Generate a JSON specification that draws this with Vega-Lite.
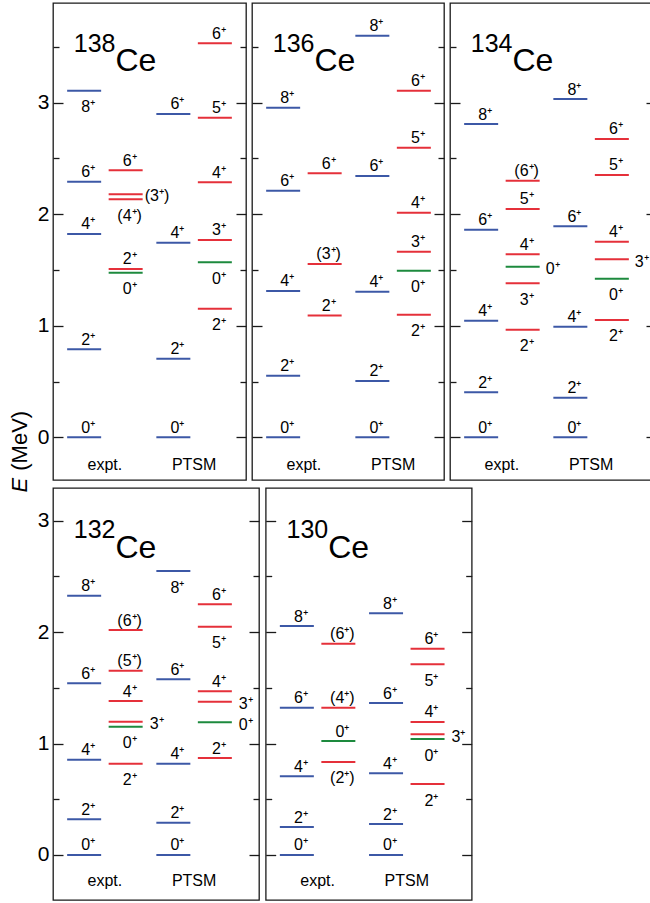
{
"$schema": "https://vega.github.io/schema/vega-lite/v6.json",
"padding": {"left": 7, "top": 2, "right": 0, "bottom": 0},
"config": {
  "font": "Liberation Sans",
  "view": {"stroke": "#1a1a1a", "strokeWidth": 1.3},
  "axis": {"labelColor": "#000", "titleColor": "#000", "tickColor": "#1a1a1a", "tickWidth": 1.3, "domain": false, "grid": false, "titleFontWeight": "normal"},
  "text": {"font": "Liberation Sans", "color": "#000"}
},
"datasets": {
  "c138": [
    {"s":"expt.","c":"g","k":"g","E":0,"J":"0⁺","p":"a"},
    {"s":"expt.","c":"g","k":"g","E":0.789,"J":"2⁺","p":"a"},
    {"s":"expt.","c":"g","k":"g","E":1.823,"J":"4⁺","p":"a"},
    {"s":"expt.","c":"g","k":"g","E":2.292,"J":"6⁺","p":"a"},
    {"s":"expt.","c":"g","k":"g","E":3.108,"J":"8⁺","p":"b"},
    {"s":"expt.","c":"o","k":"z","E":1.476,"J":"0⁺","p":"b"},
    {"s":"expt.","c":"o","k":"r","E":1.509,"J":"2⁺","p":"a"},
    {"s":"expt.","c":"o","k":"r","E":2.134,"J":"(4⁺)","p":"b"},
    {"s":"expt.","c":"o","k":"r","E":2.179,"J":"(3⁺)","p":"r"},
    {"s":"expt.","c":"o","k":"r","E":2.394,"J":"6⁺","p":"a"},
    {"s":"PTSM","c":"g","k":"g","E":0,"J":"0⁺","p":"a"},
    {"s":"PTSM","c":"g","k":"g","E":0.705,"J":"2⁺","p":"a"},
    {"s":"PTSM","c":"g","k":"g","E":1.745,"J":"4⁺","p":"a"},
    {"s":"PTSM","c":"g","k":"g","E":2.899,"J":"6⁺","p":"a"},
    {"s":"PTSM","c":"o","k":"r","E":1.153,"J":"2⁺","p":"b"},
    {"s":"PTSM","c":"o","k":"z","E":1.569,"J":"0⁺","p":"b"},
    {"s":"PTSM","c":"o","k":"r","E":1.769,"J":"3⁺","p":"a"},
    {"s":"PTSM","c":"o","k":"r","E":2.286,"J":"4⁺","p":"a"},
    {"s":"PTSM","c":"o","k":"r","E":2.866,"J":"5⁺","p":"a"},
    {"s":"PTSM","c":"o","k":"r","E":3.533,"J":"6⁺","p":"a"}
  ],
  "c136": [
    {"s":"expt.","c":"g","k":"g","E":0,"J":"0⁺","p":"a"},
    {"s":"expt.","c":"g","k":"g","E":0.552,"J":"2⁺","p":"a"},
    {"s":"expt.","c":"g","k":"g","E":1.312,"J":"4⁺","p":"a"},
    {"s":"expt.","c":"g","k":"g","E":2.211,"J":"6⁺","p":"a"},
    {"s":"expt.","c":"g","k":"g","E":2.955,"J":"8⁺","p":"a"},
    {"s":"expt.","c":"o","k":"r","E":1.091,"J":"2⁺","p":"a"},
    {"s":"expt.","c":"o","k":"r","E":1.554,"J":"(3⁺)","p":"a"},
    {"s":"expt.","c":"o","k":"r","E":2.367,"J":"6⁺","p":"a"},
    {"s":"PTSM","c":"g","k":"g","E":0,"J":"0⁺","p":"a"},
    {"s":"PTSM","c":"g","k":"g","E":0.505,"J":"2⁺","p":"a"},
    {"s":"PTSM","c":"g","k":"g","E":1.306,"J":"4⁺","p":"a"},
    {"s":"PTSM","c":"g","k":"g","E":2.343,"J":"6⁺","p":"a"},
    {"s":"PTSM","c":"g","k":"g","E":3.601,"J":"8⁺","p":"a"},
    {"s":"PTSM","c":"o","k":"r","E":1.099,"J":"2⁺","p":"b"},
    {"s":"PTSM","c":"o","k":"z","E":1.494,"J":"0⁺","p":"b"},
    {"s":"PTSM","c":"o","k":"r","E":1.664,"J":"3⁺","p":"a"},
    {"s":"PTSM","c":"o","k":"r","E":2.014,"J":"4⁺","p":"a"},
    {"s":"PTSM","c":"o","k":"r","E":2.597,"J":"5⁺","p":"a"},
    {"s":"PTSM","c":"o","k":"r","E":3.108,"J":"6⁺","p":"a"}
  ],
  "c134": [
    {"s":"expt.","c":"g","k":"g","E":0,"J":"0⁺","p":"a"},
    {"s":"expt.","c":"g","k":"g","E":0.403,"J":"2⁺","p":"a"},
    {"s":"expt.","c":"g","k":"g","E":1.046,"J":"4⁺","p":"a"},
    {"s":"expt.","c":"g","k":"g","E":1.861,"J":"6⁺","p":"a"},
    {"s":"expt.","c":"g","k":"g","E":2.809,"J":"8⁺","p":"a"},
    {"s":"expt.","c":"o","k":"r","E":0.965,"J":"2⁺","p":"b"},
    {"s":"expt.","c":"o","k":"r","E":1.381,"J":"3⁺","p":"b"},
    {"s":"expt.","c":"o","k":"z","E":1.530,"J":"0⁺","p":"r"},
    {"s":"expt.","c":"o","k":"r","E":1.641,"J":"4⁺","p":"a"},
    {"s":"expt.","c":"o","k":"r","E":2.047,"J":"5⁺","p":"a"},
    {"s":"expt.","c":"o","k":"r","E":2.301,"J":"(6⁺)","p":"a"},
    {"s":"PTSM","c":"g","k":"g","E":0,"J":"0⁺","p":"a"},
    {"s":"PTSM","c":"g","k":"g","E":0.355,"J":"2⁺","p":"a"},
    {"s":"PTSM","c":"g","k":"g","E":0.992,"J":"4⁺","p":"a"},
    {"s":"PTSM","c":"g","k":"g","E":1.892,"J":"6⁺","p":"a"},
    {"s":"PTSM","c":"g","k":"g","E":3.033,"J":"8⁺","p":"a"},
    {"s":"PTSM","c":"o","k":"r","E":1.052,"J":"2⁺","p":"b"},
    {"s":"PTSM","c":"o","k":"z","E":1.422,"J":"0⁺","p":"b"},
    {"s":"PTSM","c":"o","k":"r","E":1.596,"J":"3⁺","p":"r"},
    {"s":"PTSM","c":"o","k":"r","E":1.754,"J":"4⁺","p":"a"},
    {"s":"PTSM","c":"o","k":"r","E":2.352,"J":"5⁺","p":"a"},
    {"s":"PTSM","c":"o","k":"r","E":2.675,"J":"6⁺","p":"a"}
  ],
  "c132": [
    {"s":"expt.","c":"g","k":"g","E":0,"J":"0⁺","p":"a"},
    {"s":"expt.","c":"g","k":"g","E":0.320,"J":"2⁺","p":"a"},
    {"s":"expt.","c":"g","k":"g","E":0.855,"J":"4⁺","p":"a"},
    {"s":"expt.","c":"g","k":"g","E":1.541,"J":"6⁺","p":"a"},
    {"s":"expt.","c":"g","k":"g","E":2.327,"J":"8⁺","p":"a"},
    {"s":"expt.","c":"o","k":"r","E":0.819,"J":"2⁺","p":"b"},
    {"s":"expt.","c":"o","k":"z","E":1.151,"J":"0⁺","p":"b"},
    {"s":"expt.","c":"o","k":"r","E":1.196,"J":"3⁺","p":"r"},
    {"s":"expt.","c":"o","k":"r","E":1.382,"J":"4⁺","p":"a"},
    {"s":"expt.","c":"o","k":"r","E":1.654,"J":"(5⁺)","p":"a"},
    {"s":"expt.","c":"o","k":"r","E":2.019,"J":"(6⁺)","p":"a"},
    {"s":"PTSM","c":"g","k":"g","E":0,"J":"0⁺","p":"a"},
    {"s":"PTSM","c":"g","k":"g","E":0.290,"J":"2⁺","p":"a"},
    {"s":"PTSM","c":"g","k":"g","E":0.819,"J":"4⁺","p":"a"},
    {"s":"PTSM","c":"g","k":"g","E":1.577,"J":"6⁺","p":"a"},
    {"s":"PTSM","c":"g","k":"g","E":2.549,"J":"8⁺","p":"b"},
    {"s":"PTSM","c":"o","k":"r","E":0.870,"J":"2⁺","p":"a"},
    {"s":"PTSM","c":"o","k":"z","E":1.191,"J":"0⁺","p":"r"},
    {"s":"PTSM","c":"o","k":"r","E":1.376,"J":"3⁺","p":"r"},
    {"s":"PTSM","c":"o","k":"r","E":1.469,"J":"4⁺","p":"a"},
    {"s":"PTSM","c":"o","k":"r","E":2.049,"J":"5⁺","p":"b"},
    {"s":"PTSM","c":"o","k":"r","E":2.250,"J":"6⁺","p":"a"}
  ],
  "c130": [
    {"s":"expt.","c":"g","k":"g","E":0,"J":"0⁺","p":"a"},
    {"s":"expt.","c":"g","k":"g","E":0.251,"J":"2⁺","p":"a"},
    {"s":"expt.","c":"g","k":"g","E":0.706,"J":"4⁺","p":"a"},
    {"s":"expt.","c":"g","k":"g","E":1.322,"J":"6⁺","p":"a"},
    {"s":"expt.","c":"g","k":"g","E":2.055,"J":"8⁺","p":"a"},
    {"s":"expt.","c":"o","k":"r","E":0.835,"J":"(2⁺)","p":"b"},
    {"s":"expt.","c":"o","k":"z","E":1.023,"J":"0⁺","p":"a"},
    {"s":"expt.","c":"o","k":"r","E":1.322,"J":"(4⁺)","p":"a"},
    {"s":"expt.","c":"o","k":"r","E":1.896,"J":"(6⁺)","p":"a"},
    {"s":"PTSM","c":"g","k":"g","E":0,"J":"0⁺","p":"a"},
    {"s":"PTSM","c":"g","k":"g","E":0.278,"J":"2⁺","p":"a"},
    {"s":"PTSM","c":"g","k":"g","E":0.733,"J":"4⁺","p":"a"},
    {"s":"PTSM","c":"g","k":"g","E":1.364,"J":"6⁺","p":"a"},
    {"s":"PTSM","c":"g","k":"g","E":2.169,"J":"8⁺","p":"a"},
    {"s":"PTSM","c":"o","k":"r","E":0.637,"J":"2⁺","p":"b"},
    {"s":"PTSM","c":"o","k":"z","E":1.041,"J":"0⁺","p":"b"},
    {"s":"PTSM","c":"o","k":"r","E":1.083,"J":"3⁺","p":"r"},
    {"s":"PTSM","c":"o","k":"r","E":1.194,"J":"4⁺","p":"a"},
    {"s":"PTSM","c":"o","k":"r","E":1.711,"J":"5⁺","p":"b"},
    {"s":"PTSM","c":"o","k":"r","E":1.851,"J":"6⁺","p":"a"}
  ]
},
"columns": 1,
"align": "none",
"spacing": -6,
"bounds": "full",
"resolve": {"scale": {"xOffset": "independent", "x": "independent", "y": "independent"}},
"concat": [
{
"hconcat": [
{
  "width": 193, "height": 477,
  "data": {"name": "c138"},
  "resolve": {"axis": {"y": "independent"}},
  "layer": [
    {"mark": {"type": "tick", "orient": "horizontal", "size": 34, "thickness": 2, "opacity": 1},
     "encoding": {
       "x": {"field": "s", "type": "nominal", "scale": {"domain": ["expt.", "PTSM"], "range": [0, 193], "paddingInner": 0.0695, "paddingOuter": 0.1166},
             "axis": {"orient": "bottom", "title": null, "ticks": false, "tickSize": 0, "labelAngle": 0, "labelFontSize": 16, "labelPadding": -10.7, "labelBaseline": "alphabetic"}},
       "xOffset": {"field": "c", "type": "nominal", "scale": {"domain": ["g", "o"], "paddingInner": 0, "paddingOuter": 0}},
       "y": {"field": "E", "type": "quantitative", "scale": {"domain": [-0.383, 3.894], "nice": false, "zero": false},
             "axis": {"orient": "left", "values": [0, 0.5, 1, 1.5, 2, 2.5, 3, 3.5], "tickSize": {"condition": {"test": "datum.value % 1 === 0", "value": -10}, "value": -6},
                      "labelExpr": "datum.value % 1 ? '' : format(datum.value, 'd')", "labelFontSize": 21, "labelPadding": 14,
                      "title": "E", "titleFontStyle": "italic", "titleFontSize": 22, "titleAngle": 270, "titleAlign": "center", "titleBaseline": "alphabetic", "titleX": -26.6, "titleY": 481.6}},
       "color": {"field": "k", "type": "nominal", "scale": {"domain": ["g", "r", "z"], "range": ["#3c58a6", "#e5303a", "#1d8a3e"]}, "legend": null}
     }},
    {"transform": [{"filter": "datum.p === 'a'"}],
     "mark": {"type": "text", "fontSize": 16, "dx": 4, "dy": -4.5, "baseline": "alphabetic", "align": "center"},
     "encoding": {"x": {"field": "s", "type": "nominal"}, "xOffset": {"field": "c", "type": "nominal"},
       "y": {"field": "E", "type": "quantitative", "axis": {"orient": "right", "values": [0, 0.5, 1, 1.5, 2, 2.5, 3, 3.5], "tickSize": {"condition": {"test": "datum.value % 1 === 0", "value": -10}, "value": -6}, "labels": false, "title": null}},
       "text": {"field": "J"}}},
    {"transform": [{"filter": "datum.p === 'b'"}],
     "mark": {"type": "text", "fontSize": 16, "dx": 4, "dy": 21.5, "baseline": "alphabetic", "align": "center"},
     "encoding": {"x": {"field": "s", "type": "nominal"}, "xOffset": {"field": "c", "type": "nominal"},
       "y": {"field": "E", "type": "quantitative", "axis": {"orient": "left", "ticks": false, "labels": false, "title": "(MeV)", "titleFontSize": 22, "titleAngle": 270, "titleAlign": "center", "titleBaseline": "alphabetic", "titleX": -26.6, "titleY": 437.3}},
       "text": {"field": "J"}}},
    {"transform": [{"filter": "datum.p === 'r'"}],
     "mark": {"type": "text", "fontSize": 16, "dx": 19, "dy": 7, "baseline": "alphabetic", "align": "left"},
     "encoding": {"x": {"field": "s", "type": "nominal"}, "xOffset": {"field": "c", "type": "nominal"},
       "y": {"field": "E", "type": "quantitative", "axis": null}, "text": {"field": "J"}}},
    {"data": {"values": [{"A": "138", "el": "Ce"}]},
     "mark": {"type": "text", "fontSize": 25, "align": "right", "baseline": "alphabetic", "dx": 10.6},
     "encoding": {"x": {"datum": "expt."}, "y": {"datum": 3.457, "type": "quantitative", "axis": null}, "text": {"field": "A"}}},
    {"data": {"values": [{"A": "138", "el": "Ce"}]},
     "mark": {"type": "text", "fontSize": 32, "align": "left", "baseline": "alphabetic", "dx": 10.6},
     "encoding": {"x": {"datum": "expt."}, "y": {"datum": 3.287, "type": "quantitative", "axis": null}, "text": {"field": "el"}}}
  ]
},
{
  "width": 192, "height": 477,
  "data": {"name": "c136"},
  "resolve": {"axis": {"y": "independent"}},
  "layer": [
    {"mark": {"type": "tick", "orient": "horizontal", "size": 34, "thickness": 2, "opacity": 1},
     "encoding": {
       "x": {"field": "s", "type": "nominal", "scale": {"domain": ["expt.", "PTSM"], "range": [0, 193], "paddingInner": 0.0695, "paddingOuter": 0.1166},
             "axis": {"orient": "bottom", "title": null, "ticks": false, "tickSize": 0, "labelAngle": 0, "labelFontSize": 16, "labelPadding": -10.7, "labelBaseline": "alphabetic"}},
       "xOffset": {"field": "c", "type": "nominal", "scale": {"domain": ["g", "o"], "paddingInner": 0, "paddingOuter": 0}},
       "y": {"field": "E", "type": "quantitative", "scale": {"domain": [-0.383, 3.894], "nice": false, "zero": false},
             "axis": {"orient": "left", "values": [0, 0.5, 1, 1.5, 2, 2.5, 3, 3.5], "tickSize": {"condition": {"test": "datum.value % 1 === 0", "value": -10}, "value": -6}, "labels": false, "title": null}},
       "color": {"field": "k", "type": "nominal", "scale": {"domain": ["g", "r", "z"], "range": ["#3c58a6", "#e5303a", "#1d8a3e"]}, "legend": null}
     }},
    {"transform": [{"filter": "datum.p === 'a'"}],
     "mark": {"type": "text", "fontSize": 16, "dx": 4, "dy": -4.5, "baseline": "alphabetic", "align": "center"},
     "encoding": {"x": {"field": "s", "type": "nominal"}, "xOffset": {"field": "c", "type": "nominal"},
       "y": {"field": "E", "type": "quantitative", "axis": {"orient": "right", "values": [0, 0.5, 1, 1.5, 2, 2.5, 3, 3.5], "tickSize": {"condition": {"test": "datum.value % 1 === 0", "value": -10}, "value": -6}, "labels": false, "title": null}},
       "text": {"field": "J"}}},
    {"transform": [{"filter": "datum.p === 'b'"}],
     "mark": {"type": "text", "fontSize": 16, "dx": 4, "dy": 21.5, "baseline": "alphabetic", "align": "center"},
     "encoding": {"x": {"field": "s", "type": "nominal"}, "xOffset": {"field": "c", "type": "nominal"},
       "y": {"field": "E", "type": "quantitative", "axis": null}, "text": {"field": "J"}}},
    {"data": {"values": [{"A": "136", "el": "Ce"}]},
     "mark": {"type": "text", "fontSize": 25, "align": "right", "baseline": "alphabetic", "dx": 10.6},
     "encoding": {"x": {"datum": "expt."}, "y": {"datum": 3.457, "type": "quantitative", "axis": null}, "text": {"field": "A"}}},
    {"data": {"values": [{"A": "136", "el": "Ce"}]},
     "mark": {"type": "text", "fontSize": 32, "align": "left", "baseline": "alphabetic", "dx": 10.6},
     "encoding": {"x": {"datum": "expt."}, "y": {"datum": 3.287, "type": "quantitative", "axis": null}, "text": {"field": "el"}}}
  ]
},
{
  "width": 206, "height": 477,
  "data": {"name": "c134"},
  "resolve": {"axis": {"y": "independent"}},
  "layer": [
    {"mark": {"type": "tick", "orient": "horizontal", "size": 34, "thickness": 2, "opacity": 1},
     "encoding": {
       "x": {"field": "s", "type": "nominal", "scale": {"domain": ["expt.", "PTSM"], "range": [0, 193], "paddingInner": 0.0695, "paddingOuter": 0.1166},
             "axis": {"orient": "bottom", "title": null, "ticks": false, "tickSize": 0, "labelAngle": 0, "labelFontSize": 16, "labelPadding": -10.7, "labelBaseline": "alphabetic"}},
       "xOffset": {"field": "c", "type": "nominal", "scale": {"domain": ["g", "o"], "paddingInner": 0, "paddingOuter": 0}},
       "y": {"field": "E", "type": "quantitative", "scale": {"domain": [-0.383, 3.894], "nice": false, "zero": false},
             "axis": {"orient": "left", "values": [0, 0.5, 1, 1.5, 2, 2.5, 3, 3.5], "tickSize": {"condition": {"test": "datum.value % 1 === 0", "value": -10}, "value": -6}, "labels": false, "title": null}},
       "color": {"field": "k", "type": "nominal", "scale": {"domain": ["g", "r", "z"], "range": ["#3c58a6", "#e5303a", "#1d8a3e"]}, "legend": null}
     }},
    {"transform": [{"filter": "datum.p === 'a'"}],
     "mark": {"type": "text", "fontSize": 16, "dx": 4, "dy": -4.5, "baseline": "alphabetic", "align": "center"},
     "encoding": {"x": {"field": "s", "type": "nominal"}, "xOffset": {"field": "c", "type": "nominal"},
       "y": {"field": "E", "type": "quantitative", "axis": {"orient": "right", "values": [0, 0.5, 1, 1.5, 2, 2.5, 3, 3.5], "tickSize": {"condition": {"test": "datum.value % 1 === 0", "value": -10}, "value": -6}, "labels": false, "title": null}},
       "text": {"field": "J"}}},
    {"transform": [{"filter": "datum.p === 'b'"}],
     "mark": {"type": "text", "fontSize": 16, "dx": 4, "dy": 21.5, "baseline": "alphabetic", "align": "center"},
     "encoding": {"x": {"field": "s", "type": "nominal"}, "xOffset": {"field": "c", "type": "nominal"},
       "y": {"field": "E", "type": "quantitative", "axis": null}, "text": {"field": "J"}}},
    {"transform": [{"filter": "datum.p === 'r'"}],
     "mark": {"type": "text", "fontSize": 16, "dx": 23, "dy": 7.5, "baseline": "alphabetic", "align": "left"},
     "encoding": {"x": {"field": "s", "type": "nominal"}, "xOffset": {"field": "c", "type": "nominal"},
       "y": {"field": "E", "type": "quantitative", "axis": null}, "text": {"field": "J"}}},
    {"data": {"values": [{"A": "134", "el": "Ce"}]},
     "mark": {"type": "text", "fontSize": 25, "align": "right", "baseline": "alphabetic", "dx": 10.6},
     "encoding": {"x": {"datum": "expt."}, "y": {"datum": 3.457, "type": "quantitative", "axis": null}, "text": {"field": "A"}}},
    {"data": {"values": [{"A": "134", "el": "Ce"}]},
     "mark": {"type": "text", "fontSize": 32, "align": "left", "baseline": "alphabetic", "dx": 10.6},
     "encoding": {"x": {"datum": "expt."}, "y": {"datum": 3.287, "type": "quantitative", "axis": null}, "text": {"field": "el"}}}
  ]
}
],
"bounds": "flush",
"spacing": 6,
"resolve": {"scale": {"xOffset": "independent", "x": "independent", "y": "independent"}}
},
{
"hconcat": [
{
  "width": 206, "height": 412,
  "data": {"name": "c132"},
  "resolve": {"axis": {"y": "independent"}},
  "layer": [
    {"mark": {"type": "tick", "orient": "horizontal", "size": 34, "thickness": 2, "opacity": 1},
     "encoding": {
       "x": {"field": "s", "type": "nominal", "scale": {"domain": ["expt.", "PTSM"], "range": [0, 193], "paddingInner": 0.0695, "paddingOuter": 0.1166},
             "axis": {"orient": "bottom", "title": null, "ticks": false, "tickSize": 0, "labelAngle": 0, "labelFontSize": 16, "labelPadding": -14.3, "labelBaseline": "alphabetic"}},
       "xOffset": {"field": "c", "type": "nominal", "scale": {"domain": ["g", "o"], "paddingInner": 0, "paddingOuter": 0}},
       "y": {"field": "E", "type": "quantitative", "scale": {"domain": [-0.404, 3.294], "nice": false, "zero": false},
             "axis": {"orient": "left", "values": [0, 0.5, 1, 1.5, 2, 2.5, 3], "tickSize": {"condition": {"test": "datum.value % 1 === 0", "value": -10}, "value": -6},
                      "labelExpr": "datum.value % 1 ? '' : format(datum.value, 'd')", "labelFontSize": 21, "labelPadding": 14, "title": null}},
       "color": {"field": "k", "type": "nominal", "scale": {"domain": ["g", "r", "z"], "range": ["#3c58a6", "#e5303a", "#1d8a3e"]}, "legend": null}
     }},
    {"transform": [{"filter": "datum.p === 'a'"}],
     "mark": {"type": "text", "fontSize": 16, "dx": 4, "dy": -4.5, "baseline": "alphabetic", "align": "center"},
     "encoding": {"x": {"field": "s", "type": "nominal"}, "xOffset": {"field": "c", "type": "nominal"},
       "y": {"field": "E", "type": "quantitative", "axis": {"orient": "right", "values": [0, 0.5, 1, 1.5, 2, 2.5, 3], "tickSize": {"condition": {"test": "datum.value % 1 === 0", "value": -10}, "value": -6}, "labels": false, "title": null}},
       "text": {"field": "J"}}},
    {"transform": [{"filter": "datum.p === 'b'"}],
     "mark": {"type": "text", "fontSize": 16, "dx": 4, "dy": 21.5, "baseline": "alphabetic", "align": "center"},
     "encoding": {"x": {"field": "s", "type": "nominal"}, "xOffset": {"field": "c", "type": "nominal"},
       "y": {"field": "E", "type": "quantitative", "axis": null}, "text": {"field": "J"}}},
    {"transform": [{"filter": "datum.p === 'r'"}],
     "mark": {"type": "text", "fontSize": 16, "dx": 24, "dy": 7.5, "baseline": "alphabetic", "align": "left"},
     "encoding": {"x": {"field": "s", "type": "nominal"}, "xOffset": {"field": "c", "type": "nominal"},
       "y": {"field": "E", "type": "quantitative", "axis": null}, "text": {"field": "J"}}},
    {"data": {"values": [{"A": "132", "el": "Ce"}]},
     "mark": {"type": "text", "fontSize": 25, "align": "right", "baseline": "alphabetic", "dx": 10.6},
     "encoding": {"x": {"datum": "expt."}, "y": {"datum": 2.845, "type": "quantitative", "axis": null}, "text": {"field": "A"}}},
    {"data": {"values": [{"A": "132", "el": "Ce"}]},
     "mark": {"type": "text", "fontSize": 32, "align": "left", "baseline": "alphabetic", "dx": 10.6},
     "encoding": {"x": {"datum": "expt."}, "y": {"datum": 2.665, "type": "quantitative", "axis": null}, "text": {"field": "el"}}}
  ]
},
{
  "width": 206, "height": 412,
  "data": {"name": "c130"},
  "resolve": {"axis": {"y": "independent"}},
  "layer": [
    {"mark": {"type": "tick", "orient": "horizontal", "size": 34, "thickness": 2, "opacity": 1},
     "encoding": {
       "x": {"field": "s", "type": "nominal", "scale": {"domain": ["expt.", "PTSM"], "range": [0, 193], "paddingInner": 0.0695, "paddingOuter": 0.1166},
             "axis": {"orient": "bottom", "title": null, "ticks": false, "tickSize": 0, "labelAngle": 0, "labelFontSize": 16, "labelPadding": -14.3, "labelBaseline": "alphabetic"}},
       "xOffset": {"field": "c", "type": "nominal", "scale": {"domain": ["g", "o"], "paddingInner": 0, "paddingOuter": 0}},
       "y": {"field": "E", "type": "quantitative", "scale": {"domain": [-0.404, 3.294], "nice": false, "zero": false},
             "axis": {"orient": "left", "values": [0, 0.5, 1, 1.5, 2, 2.5, 3], "tickSize": {"condition": {"test": "datum.value % 1 === 0", "value": -10}, "value": -6}, "labels": false, "title": null}},
       "color": {"field": "k", "type": "nominal", "scale": {"domain": ["g", "r", "z"], "range": ["#3c58a6", "#e5303a", "#1d8a3e"]}, "legend": null}
     }},
    {"transform": [{"filter": "datum.p === 'a'"}],
     "mark": {"type": "text", "fontSize": 16, "dx": 4, "dy": -4.5, "baseline": "alphabetic", "align": "center"},
     "encoding": {"x": {"field": "s", "type": "nominal"}, "xOffset": {"field": "c", "type": "nominal"},
       "y": {"field": "E", "type": "quantitative", "axis": {"orient": "right", "values": [0, 0.5, 1, 1.5, 2, 2.5, 3], "tickSize": {"condition": {"test": "datum.value % 1 === 0", "value": -10}, "value": -6}, "labels": false, "title": null}},
       "text": {"field": "J"}}},
    {"transform": [{"filter": "datum.p === 'b'"}],
     "mark": {"type": "text", "fontSize": 16, "dx": 4, "dy": 21.5, "baseline": "alphabetic", "align": "center"},
     "encoding": {"x": {"field": "s", "type": "nominal"}, "xOffset": {"field": "c", "type": "nominal"},
       "y": {"field": "E", "type": "quantitative", "axis": null}, "text": {"field": "J"}}},
    {"transform": [{"filter": "datum.p === 'r'"}],
     "mark": {"type": "text", "fontSize": 16, "dx": 24, "dy": 7.5, "baseline": "alphabetic", "align": "left"},
     "encoding": {"x": {"field": "s", "type": "nominal"}, "xOffset": {"field": "c", "type": "nominal"},
       "y": {"field": "E", "type": "quantitative", "axis": null}, "text": {"field": "J"}}},
    {"data": {"values": [{"A": "130", "el": "Ce"}]},
     "mark": {"type": "text", "fontSize": 25, "align": "right", "baseline": "alphabetic", "dx": 10.6},
     "encoding": {"x": {"datum": "expt."}, "y": {"datum": 2.845, "type": "quantitative", "axis": null}, "text": {"field": "A"}}},
    {"data": {"values": [{"A": "130", "el": "Ce"}]},
     "mark": {"type": "text", "fontSize": 32, "align": "left", "baseline": "alphabetic", "dx": 10.6},
     "encoding": {"x": {"datum": "expt."}, "y": {"datum": 2.665, "type": "quantitative", "axis": null}, "text": {"field": "el"}}}
  ]
}
],
"bounds": "flush",
"spacing": 6.7,
"resolve": {"scale": {"xOffset": "independent", "x": "independent", "y": "independent"}}
}
]
}
